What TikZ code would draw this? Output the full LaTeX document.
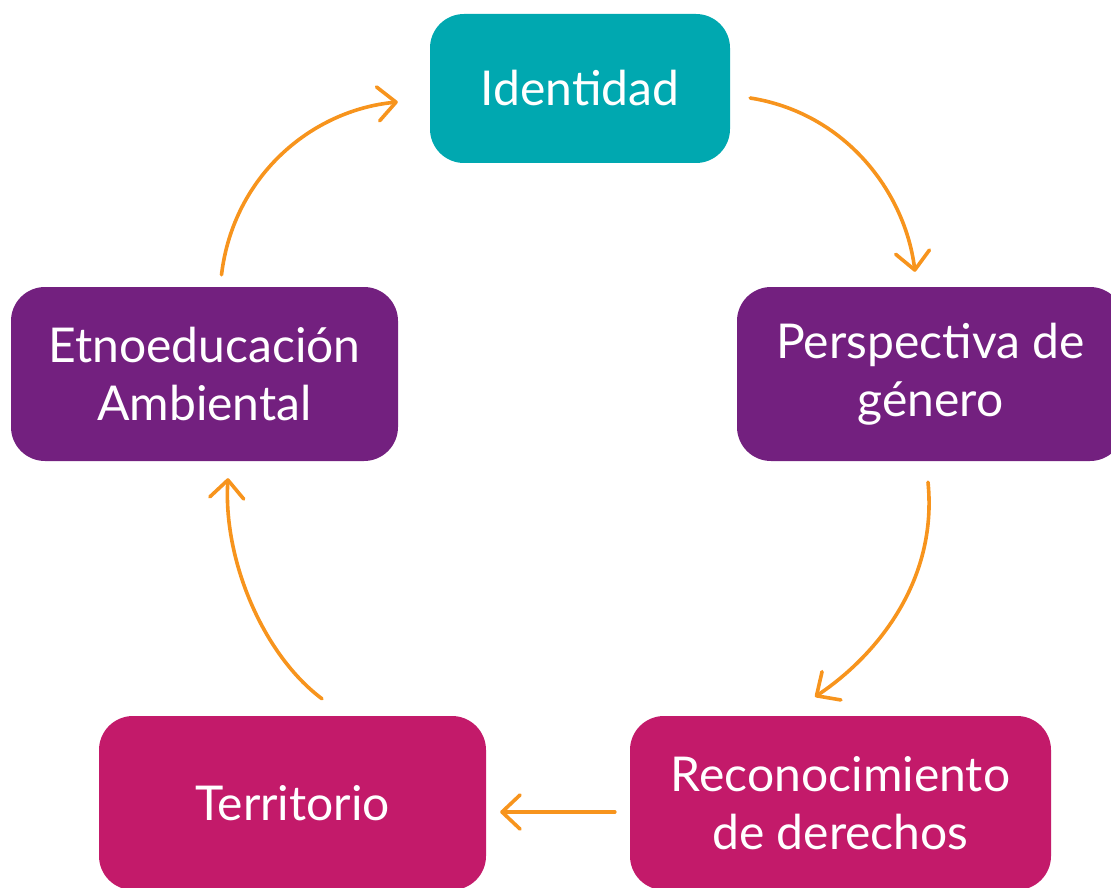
\documentclass[tikz,border=0pt]{standalone}
\usepackage{fontspec}
\setmainfont{Lato}
\usetikzlibrary{arrows.meta,calc}
\definecolor{teal1}{HTML}{00A8B0}
\definecolor{purp1}{HTML}{73207F}
\definecolor{mag1}{HTML}{C31A6A}
\definecolor{orng}{HTML}{F7941D}
\tikzset{
  box/.style={rounded corners=34pt, inner sep=0pt, text=white, align=center,
    font=\fontsize{48}{58}\selectfont, minimum height=174pt, minimum width=387pt},
  flow/.style={draw=orng, line width=3.6pt, line cap=round,
    -{Straight Barb[length=18pt,width=34pt,line width=3.6pt,round]}},
}
\begin{document}
\begin{tikzpicture}[x=1pt,y=-1pt]
\useasboundingbox (0,0) rectangle (1111,888);
\clip (0,0) rectangle (1111,888);
\node[box, fill=teal1, minimum width=300pt, minimum height=149pt] (ident) at (580,88.5) {Identidad};
\node[box, fill=purp1] (persp) at (930.5,374) {Perspectiva de\\género};
\node[box, fill=purp1] (etno) at (204.5,374) {Etnoeducación\\Ambiental};
\node[box, fill=mag1, minimum width=421pt] (recon) at (840.5,803) {Reconocimiento\\de derechos};
\node[box, fill=mag1] (terr) at (292.5,803) {Territorio};
\draw[flow] ($(etno.north)+(17,-12)$) .. controls +(12,-100) and +(-85,8) .. ($(ident.west)+(-32,13.5)$);
\draw[flow] ($(ident.east)+(20,9.5)$) .. controls +(95,15) and +(-10,-80) .. ($(persp.north)+(-15.5,-15)$);
\draw[flow] ($(persp.south)+(-2.5,21)$) .. controls +(10,100) and +(60,-40) .. ($(recon.north)+(-25.5,-19)$);
\draw[flow] ($(recon.west)+(-15,9)$) -- ($(terr.east)+(14,9)$);
\draw[flow] ($(terr.north)+(29.5,-17)$) .. controls +(-60,-45) and +(-5,80) .. ($(etno.south)+(23.5,17)$);
\end{tikzpicture}
\end{document}
